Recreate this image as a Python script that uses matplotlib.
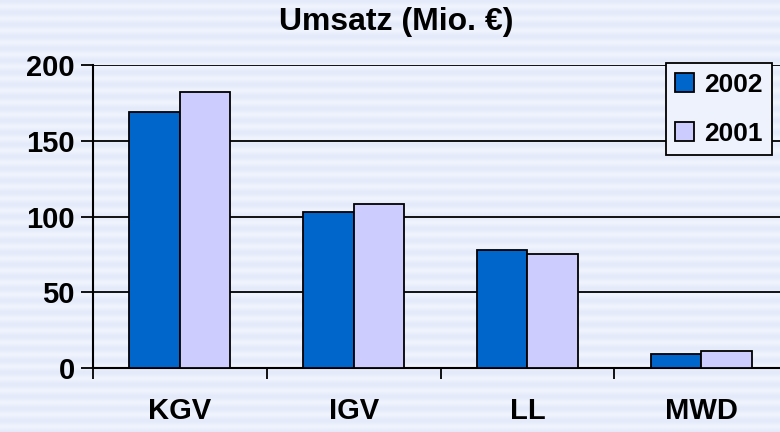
import numpy as np
import matplotlib
matplotlib.use('Agg')
from matplotlib import pyplot as plt

categories = ['KGV', 'IGV', 'LL', 'MWD']
umsatz_2002 = [169, 103, 78, 9]
umsatz_2001 = [182, 108, 75, 11]
y_ticks = [0, 50, 100, 150, 200]

plt.rcParams['font.family'] = ['Liberation Sans', 'DejaVu Sans']

fig = plt.figure(figsize=(7.8, 4.32), dpi=100)

# striped background
bg = fig.add_axes([0, 0, 1, 1], zorder=-10)
rows = np.arange(432)
shade = 0.5 + 0.5 * np.cos(2 * np.pi * rows / 12.0)
c1 = np.array([0.898, 0.918, 0.980])
c2 = np.array([0.937, 0.953, 0.992])
img = c1[None, :] * shade[:, None] + c2[None, :] * (1 - shade[:, None])
bg.imshow(img[:, None, :], aspect='auto', extent=[0, 1, 0, 1])
bg.set_axis_off()

ax = fig.add_axes([93 / 780, 1 - 368 / 432, 695 / 780, 303 / 432])
ax.patch.set_alpha(0)

x = np.arange(len(categories))
w = 0.29
ax.bar(x - w / 2, umsatz_2002, w, color='#0066CC', edgecolor='black', linewidth=1.3, label='2002', zorder=3)
ax.bar(x + w / 2, umsatz_2001, w, color='#CCCCFF', edgecolor='black', linewidth=1.3, label='2001', zorder=3)

ax.set_xlim(-0.5, 3.5)
ax.set_ylim(0, 200)
ax.set_yticks(y_ticks)
ax.set_yticklabels([str(t) for t in y_ticks], fontsize=21, fontweight='bold')
ax.tick_params(axis='y', length=9, width=1.3, direction='out', pad=4)
ax.yaxis.grid(True, color='black', linewidth=1.3, zorder=0)
ax.set_axisbelow(True)

ax.set_xticks(x)
ax.set_xticklabels(categories, fontsize=21, fontweight='bold')
ax.tick_params(axis='x', which='major', length=0, pad=21)
ax.set_xticks(np.arange(-0.5, 4, 1), minor=True)
ax.tick_params(axis='x', which='minor', length=8, width=1.3, direction='out')

for s in ['top', 'right']:
    ax.spines[s].set_visible(False)
ax.spines['left'].set_linewidth(1.5)
ax.spines['bottom'].set_linewidth(1.5)

leg = ax.legend(loc='upper left', bbox_to_anchor=((666 - 93) / 695, 1.005),
                prop={'size': 19, 'weight': 'bold'}, frameon=True, fancybox=False,
                handlelength=0.7, handleheight=0.7, handletextpad=0.4,
                borderpad=0.35, labelspacing=0.95, borderaxespad=0)
leg.get_frame().set_edgecolor('black')
leg.get_frame().set_linewidth(1.3)
leg.get_frame().set_facecolor('#EEF2FD')
leg.get_frame().set_alpha(1)

fig.text(396 / 780, 1 - 22 / 432, 'Umsatz (Mio. €)', ha='center', va='center',
         fontsize=23, fontweight='bold')

fig.savefig('out.png', dpi=100)
